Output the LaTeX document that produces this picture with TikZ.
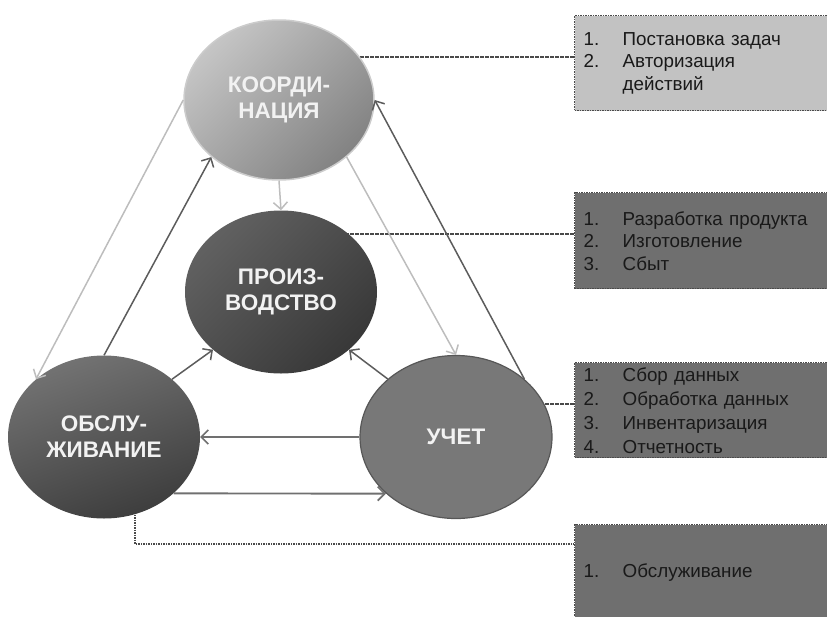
\documentclass[tikz,border=0pt]{standalone}
\usepackage{fontspec}
\setmainfont{Liberation Sans}
\usetikzlibrary{shapes.geometric,arrows.meta,backgrounds}

\definecolor{linkgray}{HTML}{4A4A4A}
\definecolor{lightflow}{HTML}{BDBDBD}
\definecolor{darkflow}{HTML}{5C5C5C}
\definecolor{midflow}{HTML}{707070}
\definecolor{boxlight}{HTML}{C2C2C2}
\definecolor{boxdark}{HTML}{6F6F6F}

\tikzset{
  unit/.style={ellipse, minimum width=192pt, minimum height=163pt, inner sep=0pt,
               align=center, text=white!95!black, font=\bfseries\fontsize{22.5}{26}\selectfont},
  listbox/.style={rectangle, anchor=north west, text width=238pt, inner xsep=9pt,
                  align=left, draw=linkgray, dash pattern=on 1.6pt off 0.9pt, line width=1.4pt,
                  text=black!90, font=\fontsize{18.8}{22.5}\selectfont},
  link/.style={draw=linkgray, dash pattern=on 1.6pt off 0.9pt, line width=1.6pt},
  flow/.style={-{Straight Barb[length=7pt,width=14pt]}, line width=1.5pt},
}
\newcommand{\boxitem}[2]{\makebox[39pt][l]{#1}#2}

\begin{document}
\begin{tikzpicture}[x=1pt,y=-1pt]
\useasboundingbox (0,0) rectangle (827,616);
\clip (0,0) rectangle (827,616);

% Functions (ellipses)
\node[unit, draw=gray!40, line width=1.5pt, top color=boxlight!95!white, bottom color=gray!85!black!85,
      shading angle=45, minimum width=190pt, minimum height=160pt] (koord) at (279,100) {КООРДИ-\\НАЦИЯ};
\node[unit, top color=black!62, bottom color=black!78, shading angle=45] (proiz) at (281,292) {ПРОИЗ-\\ВОДСТВО};
\node[unit, top color=black!55, bottom color=black!76, shading angle=20] (obsl) at (104,437) {ОБСЛУ-\\ЖИВАНИЕ};
\node[unit, fill=black!53, draw=black!66, line width=1.2pt] (uchet) at (456,437) {УЧЕТ};

% Task lists
\node[listbox, fill=boxlight, minimum height=95pt] (tasks) at (574,15)
  {\boxitem{1.}{Постановка задач}\\\boxitem{2.}{Авторизация}\\\boxitem{}{действий}};
\node[listbox, fill=boxdark, minimum height=96pt] (prodlist) at (574,192)
  {\boxitem{1.}{Разработка продукта}\\\boxitem{2.}{Изготовление}\\\boxitem{3.}{Сбыт}};
\node[listbox, fill=boxdark, minimum height=95pt, font=\fontsize{18.8}{24}\selectfont] (acclist) at (574,362)
  {\boxitem{1.}{Сбор данных}\\\boxitem{2.}{Обработка данных}\\\boxitem{3.}{Инвентаризация}\\\boxitem{4.}{Отчетность}};
\node[listbox, fill=boxdark, minimum height=96pt] (servlist) at (574,524)
  {\boxitem{1.}{Обслуживание}};

% Dotted links to the lists
\coordinate (t1) at ([yshift=6pt]tasks.west);
\coordinate (t2) at ([yshift=7pt]prodlist.west);
\coordinate (t3) at ([yshift=6pt]acclist.west);
\coordinate (t4) at ([yshift=29pt]servlist.west);
\begin{scope}[on background layer]
\draw[link] (t1) -- (koord.center |- t1);
\draw[link] (t2) -- (proiz.center |- t2);
\draw[link] (t3) -- (uchet.center |- t3);
\draw[link] ([xshift=31pt]obsl.center) |- (t4);
\end{scope}

% Flows between functions
\draw[flow, lightflow] (koord.west) -- (obsl.north west);
\draw[flow, darkflow] (obsl.north) -- (koord.south west);
\draw[flow, lightflow] (koord.south) -- (proiz.north);
\draw[flow, lightflow] (koord.south east) -- (uchet.north);
\draw[flow, darkflow] (uchet.north east) -- (koord.east);
\draw[flow, darkflow] (obsl.north east) -- (proiz.south west);
\draw[flow, darkflow] (uchet.north west) -- (proiz.south east);
\draw[flow, midflow] (uchet.west) -- (obsl.east);
\draw[flow, midflow, line width=1.9pt] (obsl.-39) -- (uchet.219);

\end{tikzpicture}
\end{document}
